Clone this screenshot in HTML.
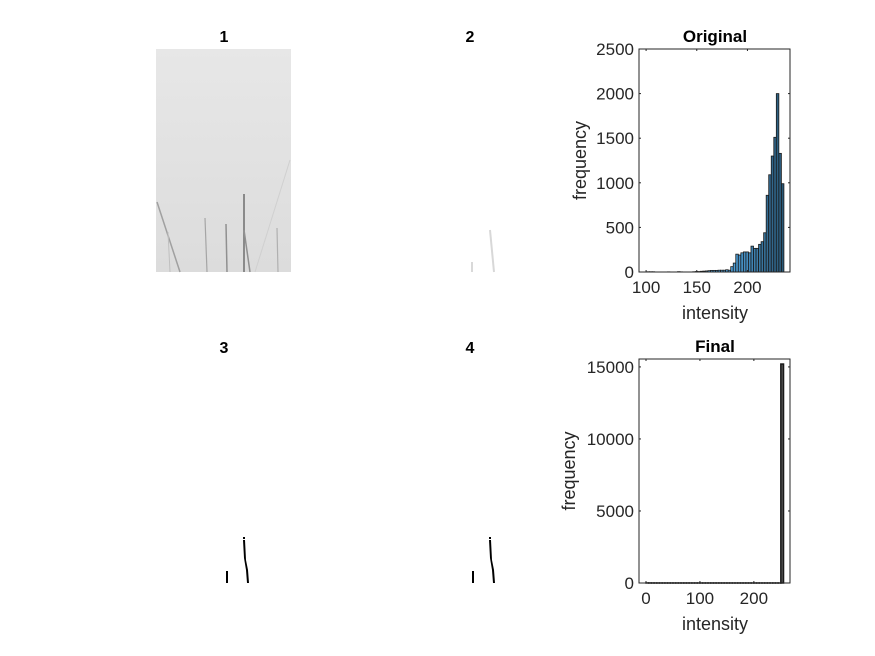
<!DOCTYPE html>
<html><head><meta charset="utf-8"><style>
body{margin:0;background:#fff}
svg{display:block;font-family:"Liberation Sans",sans-serif}
</style></head><body>
<svg width="875" height="656" viewBox="0 0 875 656">
<defs>
<linearGradient id="sky" x1="0" y1="0" x2="0" y2="1">
<stop offset="0" stop-color="#e7e7e7"/><stop offset="1" stop-color="#dcdcdc"/>
</linearGradient>
</defs>
<g>
<text x="224" y="42" font-size="16" font-weight="bold" text-anchor="middle" fill="#000">1</text>
<rect x="156" y="49" width="135" height="223" fill="url(#sky)"/>
<g fill="none">
<line x1="157" y1="202" x2="180" y2="272" stroke-width="1.5" stroke="#a0a0a0"/>
<line x1="205" y1="218" x2="207" y2="272" stroke-width="1.2" stroke="#a5a5a5"/>
<line x1="226" y1="224" x2="227" y2="272" stroke-width="1.5" stroke="#909090"/>
<line x1="244" y1="194" x2="244" y2="272" stroke-width="1.8" stroke="#808080"/>
<line x1="244" y1="230" x2="250" y2="272" stroke-width="1.5" stroke="#909090"/>
<line x1="277" y1="228" x2="278" y2="272" stroke-width="1.2" stroke="#b0b0b0"/>
<line x1="168" y1="232" x2="170" y2="272" stroke-width="1" stroke="#c0c0c0"/>
<line x1="290" y1="160" x2="255" y2="272" stroke-width="1" stroke="#d0d0d0"/>
</g>
</g>
<g>
<text x="470" y="42" font-size="16" font-weight="bold" text-anchor="middle" fill="#000">2</text>
<line x1="472" y1="262" x2="472" y2="272" stroke="#ccc" stroke-width="1.5"/>
<line x1="490" y1="230" x2="494" y2="272" stroke="#d8d8d8" stroke-width="2"/>
</g>
<g>
<text x="224" y="353" font-size="16" font-weight="bold" text-anchor="middle" fill="#000">3</text>
<rect x="226" y="571" width="2" height="12" fill="#000"/>
<polygon points="243,540 245,540 246,560 248,570 249,583 247,583 246,570 244,558" fill="#000"/>
<rect x="243" y="537" width="2" height="2" fill="#000"/>
</g>
<g>
<text x="470" y="353" font-size="16" font-weight="bold" text-anchor="middle" fill="#000">4</text>
<rect x="472" y="571" width="2" height="12" fill="#000"/>
<polygon points="489,540 491,540 492,560 494,570 495,583 493,583 492,570 490,558" fill="#000"/>
<rect x="489" y="537" width="2" height="2" fill="#000"/>
</g>
<g id="h1"></g>
<g id="h2"></g>
</svg>
<script>
const origBinStart = 101;
const origBinWidth = 2.5;
const origCounts = [3,3,3,0,0,0,0,0,2,0,0,0,4,2,0,0,0,0,3,5,5,8,10,12,15,18,18,18,20,20,20,25,
  20,60,100,200,190,215,225,225,215,290,265,265,310,340,440,860,1090,1300,1510,2000,1330,990];
const origXTicks = [100,150,200];
const origYTicks = [0,500,1000,1500,2000,2500];
const finalBinStart = 0;
const finalBinWidth = 5;
const finalCounts = [5,3,2,2,1,1,1,1,1,1,1,1,1,1,1,1,1,1,1,1,1,1,1,1,1,1,1,1,1,1,1,1,1,1,1,1,1,1,1,1,1,1,1,1,1,1,1,1,1,1,15200];
const finalXTicks = [0,100,200];
const finalYTicks = [0,5000,10000,15000];

const NS="http://www.w3.org/2000/svg";
function mk(tag,attrs,parent){const e=document.createElementNS(NS,tag);for(const k in attrs)e.setAttribute(k,attrs[k]);parent.appendChild(e);return e;}
function drawHist(g,o){
  const L=639,R=790,T=o.top,B=o.bottom;
  const sx=v=>L+(v-o.xmin)/(o.xmax-o.xmin)*(R-L);
  const sy=v=>B-(v-o.ymin)/(o.ymax-o.ymin)*(B-T);
  mk('rect',{x:L,y:T,width:R-L,height:B-T,fill:'#fff'},g);
  o.counts.forEach((c,i)=>{
    const x0=sx(o.start+i*o.width), x1=sx(o.start+(i+1)*o.width);
    const f=Math.min(1,Math.max(0,(o.start+i*o.width-180)/56));
    const col=o.colored?`rgb(${Math.round(80-40*f)},${Math.round(165-80*f)},${Math.round(225-110*f)})`:'#555';
    const r=mk('rect',{x:x0,y:sy(c),width:Math.max(0.5,x1-x0),height:B-sy(c),fill:col,stroke:'#1a1a1a','stroke-width':o.colored?0.8:1.5},g);
    
    
  });
  mk('rect',{x:L,y:T,width:R-L,height:B-T,fill:'none',stroke:'#262626','stroke-width':1},g);
  o.xt.forEach(t=>{const x=sx(t);
    mk('line',{x1:x,y1:B,x2:x,y2:B-2,stroke:'#262626'},g);
    mk('line',{x1:x,y1:T,x2:x,y2:T+2,stroke:'#262626'},g);
    const tx=mk('text',{x:x,y:B+21,'font-size':17,'text-anchor':'middle',fill:'#262626'},g);tx.textContent=t;
    
    });
  o.yt.forEach(t=>{const y=sy(t);
    mk('line',{x1:L,y1:y,x2:L+2,y2:y,stroke:'#262626'},g);
    mk('line',{x1:R,y1:y,x2:R-2,y2:y,stroke:'#262626'},g);
    const tx=mk('text',{x:L-5,y:y+6,'font-size':17,'text-anchor':'end',fill:'#262626'},g);tx.textContent=t;
    
    });
  const ti=mk('text',{x:715,y:T-7,'font-size':17,'font-weight':'bold','text-anchor':'middle',fill:'#000'},g);ti.textContent=o.title;
  
  
  const xl=mk('text',{x:715,y:B+47,'font-size':18,'text-anchor':'middle',fill:'#262626'},g);xl.textContent='intensity';
  
  
  const cy=(T+B)/2;
  const yl=mk('text',{x:o.ylx,y:cy,'font-size':18,'text-anchor':'middle',fill:'#262626',transform:`rotate(-90 ${o.ylx} ${cy})`},g);yl.textContent='frequency';
  
  
}
drawHist(document.getElementById('h1'),{top:49,bottom:272,xmin:93,xmax:242,ymin:0,ymax:2500,start:origBinStart,width:origBinWidth,counts:origCounts,xt:origXTicks,yt:origYTicks,title:'Original',colored:true,ylx:586});
drawHist(document.getElementById('h2'),{top:359,bottom:583,xmin:-13,xmax:267,ymin:0,ymax:15550,start:finalBinStart,width:finalBinWidth,counts:finalCounts,xt:finalXTicks,yt:finalYTicks,title:'Final',colored:false,ylx:575});
</script>
</body></html>
